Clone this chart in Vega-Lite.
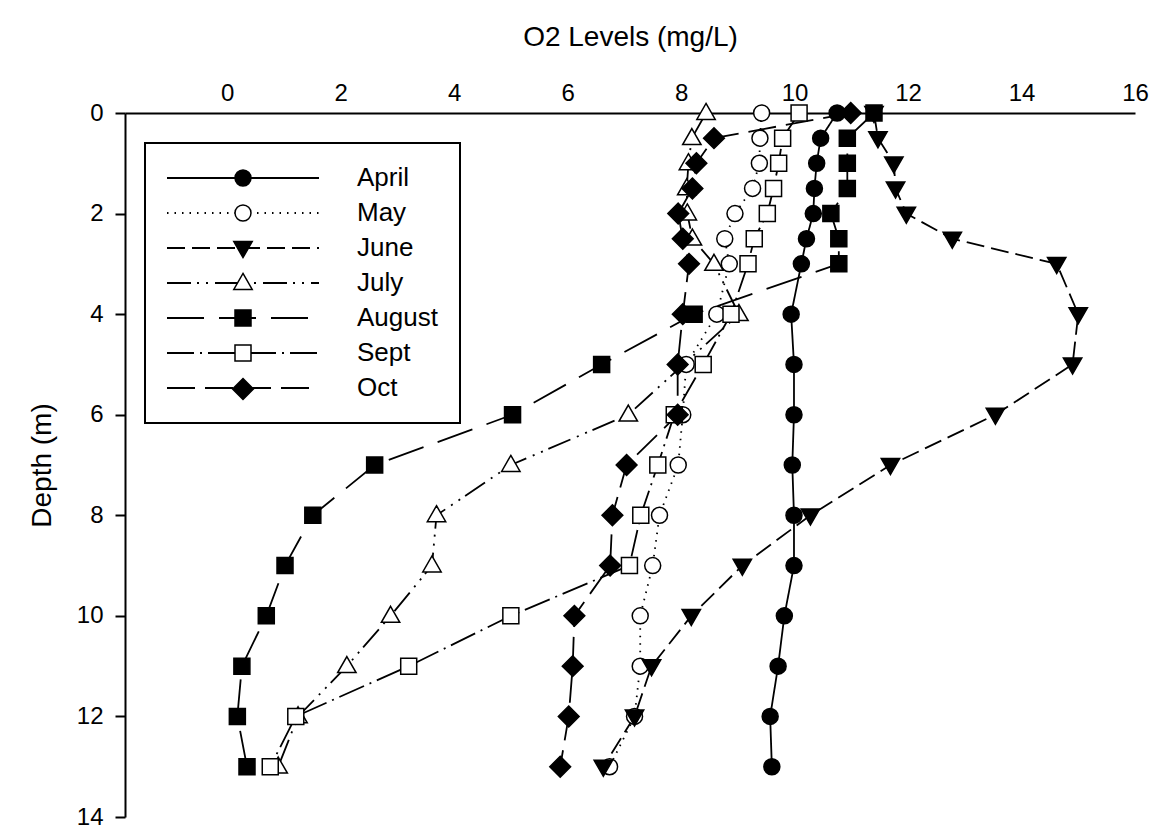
{
  "$schema": "https://vega.github.io/schema/vega-lite/v6.json",
  "width": 1010,
  "height": 704,
  "autosize": {"type": "none"},
  "padding": {"left": 125, "top": 113, "right": 22, "bottom": 16},
  "background": "white",
  "config": {
    "view": {"stroke": null},
    "font": "Liberation Sans",
    "axis": {"grid": false, "domainColor": "black", "domainWidth": 2, "tickColor": "black", "tickWidth": 2, "labelColor": "black", "titleColor": "black", "labelFont": "Liberation Sans", "titleFont": "Liberation Sans", "titleFontWeight": "normal"},
    "legend": {"labelFont": "Liberation Sans", "labelColor": "black", "strokeWidth": 2}
  },
  "data": {"values": [
    {"month": "April", "depth": 0, "o2": 10.75}, {"month": "April", "depth": 0.5, "o2": 10.46}, {"month": "April", "depth": 1, "o2": 10.39}, {"month": "April", "depth": 1.5, "o2": 10.35}, {"month": "April", "depth": 2, "o2": 10.33}, {"month": "April", "depth": 2.5, "o2": 10.21}, {"month": "April", "depth": 3, "o2": 10.12}, {"month": "April", "depth": 4, "o2": 9.94}, {"month": "April", "depth": 5, "o2": 9.99}, {"month": "April", "depth": 6, "o2": 9.99}, {"month": "April", "depth": 7, "o2": 9.96}, {"month": "April", "depth": 8, "o2": 9.99}, {"month": "April", "depth": 9, "o2": 9.99}, {"month": "April", "depth": 10, "o2": 9.82}, {"month": "April", "depth": 11, "o2": 9.71}, {"month": "April", "depth": 12, "o2": 9.57}, {"month": "April", "depth": 13, "o2": 9.6},
    {"month": "May", "depth": 0, "o2": 9.42}, {"month": "May", "depth": 0.5, "o2": 9.39}, {"month": "May", "depth": 1, "o2": 9.38}, {"month": "May", "depth": 1.5, "o2": 9.26}, {"month": "May", "depth": 2, "o2": 8.95}, {"month": "May", "depth": 2.5, "o2": 8.77}, {"month": "May", "depth": 3, "o2": 8.85}, {"month": "May", "depth": 4, "o2": 8.63}, {"month": "May", "depth": 5, "o2": 8.09}, {"month": "May", "depth": 6, "o2": 8.03}, {"month": "May", "depth": 7, "o2": 7.95}, {"month": "May", "depth": 8, "o2": 7.62}, {"month": "May", "depth": 9, "o2": 7.5}, {"month": "May", "depth": 10, "o2": 7.28}, {"month": "May", "depth": 11, "o2": 7.28}, {"month": "May", "depth": 12, "o2": 7.18}, {"month": "May", "depth": 13, "o2": 6.74},
    {"month": "June", "depth": 0, "o2": 11.4}, {"month": "June", "depth": 0.5, "o2": 11.47}, {"month": "June", "depth": 1, "o2": 11.75}, {"month": "June", "depth": 1.5, "o2": 11.78}, {"month": "June", "depth": 2, "o2": 11.97}, {"month": "June", "depth": 2.5, "o2": 12.78}, {"month": "June", "depth": 3, "o2": 14.62}, {"month": "June", "depth": 4, "o2": 15.0}, {"month": "June", "depth": 5, "o2": 14.9}, {"month": "June", "depth": 6, "o2": 13.54}, {"month": "June", "depth": 7, "o2": 11.69}, {"month": "June", "depth": 8, "o2": 10.28}, {"month": "June", "depth": 9, "o2": 9.08}, {"month": "June", "depth": 10, "o2": 8.18}, {"month": "June", "depth": 11, "o2": 7.48}, {"month": "June", "depth": 12, "o2": 7.18}, {"month": "June", "depth": 13, "o2": 6.63},
    {"month": "July", "depth": 0, "o2": 8.44}, {"month": "July", "depth": 0.5, "o2": 8.19}, {"month": "July", "depth": 1, "o2": 8.13}, {"month": "July", "depth": 1.5, "o2": 8.1}, {"month": "July", "depth": 2, "o2": 8.11}, {"month": "July", "depth": 2.5, "o2": 8.2}, {"month": "July", "depth": 3, "o2": 8.58}, {"month": "July", "depth": 4, "o2": 9.02}, {"month": "July", "depth": 6, "o2": 7.07}, {"month": "July", "depth": 7, "o2": 5.0}, {"month": "July", "depth": 8, "o2": 3.69}, {"month": "July", "depth": 9, "o2": 3.61}, {"month": "July", "depth": 10, "o2": 2.88}, {"month": "July", "depth": 11, "o2": 2.11}, {"month": "July", "depth": 12, "o2": 1.25}, {"month": "July", "depth": 13, "o2": 0.9},
    {"month": "August", "depth": 0, "o2": 11.4}, {"month": "August", "depth": 0.5, "o2": 10.93}, {"month": "August", "depth": 1, "o2": 10.93}, {"month": "August", "depth": 1.5, "o2": 10.93}, {"month": "August", "depth": 2, "o2": 10.64}, {"month": "August", "depth": 2.5, "o2": 10.78}, {"month": "August", "depth": 3, "o2": 10.78}, {"month": "August", "depth": 4, "o2": 8.23}, {"month": "August", "depth": 5, "o2": 6.6}, {"month": "August", "depth": 6, "o2": 5.03}, {"month": "August", "depth": 7, "o2": 2.6}, {"month": "August", "depth": 8, "o2": 1.51}, {"month": "August", "depth": 9, "o2": 1.02}, {"month": "August", "depth": 10, "o2": 0.69}, {"month": "August", "depth": 11, "o2": 0.26}, {"month": "August", "depth": 12, "o2": 0.18}, {"month": "August", "depth": 13, "o2": 0.35},
    {"month": "Sept", "depth": 0, "o2": 10.08}, {"month": "Sept", "depth": 0.5, "o2": 9.79}, {"month": "Sept", "depth": 1, "o2": 9.72}, {"month": "Sept", "depth": 1.5, "o2": 9.63}, {"month": "Sept", "depth": 2, "o2": 9.52}, {"month": "Sept", "depth": 2.5, "o2": 9.29}, {"month": "Sept", "depth": 3, "o2": 9.18}, {"month": "Sept", "depth": 4, "o2": 8.88}, {"month": "Sept", "depth": 5, "o2": 8.39}, {"month": "Sept", "depth": 6, "o2": 7.88}, {"month": "Sept", "depth": 7, "o2": 7.59}, {"month": "Sept", "depth": 8, "o2": 7.29}, {"month": "Sept", "depth": 9, "o2": 7.09}, {"month": "Sept", "depth": 10, "o2": 5.0}, {"month": "Sept", "depth": 11, "o2": 3.2}, {"month": "Sept", "depth": 12, "o2": 1.21}, {"month": "Sept", "depth": 13, "o2": 0.76},
    {"month": "Oct", "depth": 0, "o2": 10.99}, {"month": "Oct", "depth": 0.5, "o2": 8.58}, {"month": "Oct", "depth": 1, "o2": 8.27}, {"month": "Oct", "depth": 1.5, "o2": 8.2}, {"month": "Oct", "depth": 2, "o2": 7.95}, {"month": "Oct", "depth": 2.5, "o2": 8.03}, {"month": "Oct", "depth": 3, "o2": 8.14}, {"month": "Oct", "depth": 4, "o2": 8.03}, {"month": "Oct", "depth": 5, "o2": 7.94}, {"month": "Oct", "depth": 6, "o2": 7.94}, {"month": "Oct", "depth": 7, "o2": 7.04}, {"month": "Oct", "depth": 8, "o2": 6.79}, {"month": "Oct", "depth": 9, "o2": 6.75}, {"month": "Oct", "depth": 10, "o2": 6.12}, {"month": "Oct", "depth": 11, "o2": 6.09}, {"month": "Oct", "depth": 12, "o2": 6.02}, {"month": "Oct", "depth": 13, "o2": 5.87}
  ]},
  "encoding": {
    "x": {"field": "o2", "type": "quantitative", "scale": {"domain": [-1.8, 16], "nice": false, "zero": false},
      "axis": {"orient": "top", "values": [0, 2, 4, 6, 8, 10, 12, 14, 16], "ticks": false, "labelFlush": false, "labelFontSize": 24, "labelPadding": 8, "title": "O2 Levels (mg/L)", "titleFontSize": 28, "titlePadding": 30}},
    "y": {"field": "depth", "type": "quantitative", "scale": {"domain": [0, 14], "reverse": true, "nice": false, "zero": false},
      "axis": {"orient": "left", "values": [0, 2, 4, 6, 8, 10, 12, 14], "tickSize": 10, "labelFlush": false, "labelFontSize": 24, "labelPadding": 12, "title": "Depth (m)", "titleFontSize": 28, "titlePadding": 20}}
  },
  "layer": [
    {
      "mark": {"type": "line", "color": "black", "strokeWidth": 1.8},
      "encoding": {
        "strokeDash": {"field": "month", "type": "nominal", "sort": ["April", "May", "June", "July", "August", "Sept", "Oct"],
          "scale": {"range": [[1, 0], [1.5, 6], [18, 7], [24, 6, 2, 7, 2, 7], [37, 15], [27, 6, 2, 6], [28, 10]]},
          "legend": {"orient": "none", "legendX": 20, "legendY": 30, "title": null, "padding": 22, "strokeColor": "black", "symbolType": "M-9.5,0L9.5,0", "symbolSize": 256, "symbolOffset": 63, "symbolStrokeWidth": 1.8, "symbolStrokeColor": "black", "labelOffset": 101, "labelFontSize": 26, "rowPadding": 9}},
        "order": {"field": "depth", "type": "quantitative"}
      }
    },
    {
      "mark": {"type": "point", "filled": true, "stroke": "black", "strokeWidth": 1.5, "opacity": 1, "size": 256},
      "encoding": {
        "shape": {"field": "month", "type": "nominal",
          "scale": {"domain": ["April", "May", "June", "July", "August", "Sept", "Oct"], "range": ["circle", "circle", "M-1.15,-0.8L1.15,-0.8L0,1.2Z", "M0,-1.2L1.15,0.8L-1.15,0.8Z", "square", "square", "M0,-1.3L1.3,0L0,1.3L-1.3,0Z"]},
          "legend": {"orient": "none", "legendX": 20, "legendY": 30, "title": null, "padding": 22, "symbolSize": 256, "symbolOffset": 63, "labelOffset": 101, "labelFontSize": 26, "labelOpacity": 0, "rowPadding": 9, "zindex": 2}},
        "fill": {"field": "month", "type": "nominal",
          "scale": {"domain": ["April", "May", "June", "July", "August", "Sept", "Oct"], "range": ["black", "white", "black", "white", "black", "white", "black"]},
          "legend": {"orient": "none", "legendX": 20, "legendY": 30, "title": null, "padding": 22, "symbolSize": 256, "symbolOffset": 63, "labelOffset": 101, "labelFontSize": 26, "labelOpacity": 0, "rowPadding": 9, "zindex": 2}}
      }
    }
  ]
}
